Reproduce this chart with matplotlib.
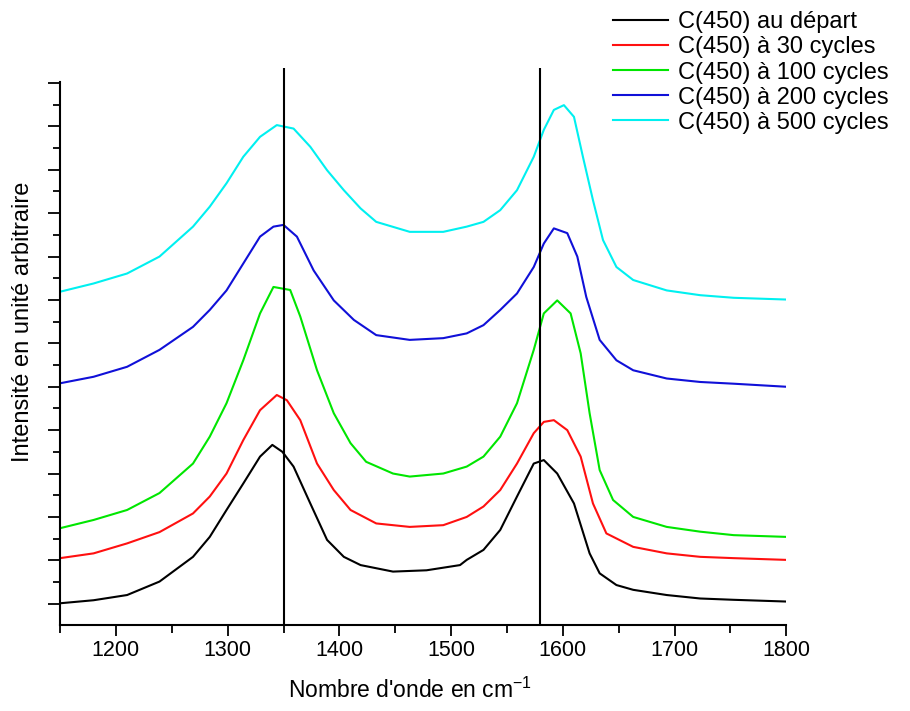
import matplotlib
matplotlib.use("Agg")
import matplotlib.pyplot as plt
from matplotlib.ticker import MultipleLocator

plt.rcParams['font.family'] = ['Liberation Sans', 'DejaVu Sans']

# Wavenumbers (cm^-1) and intensities (arbitrary units, 1 unit = 1 major y tick)
wn_black = [1150, 1180, 1210, 1239, 1269, 1284, 1299, 1314, 1329, 1340, 1349, 1359, 1374, 1389,
            1404, 1419, 1448, 1478, 1508, 1514, 1529, 1544, 1559, 1574, 1583, 1595, 1610, 1624,
            1633, 1648, 1663, 1693, 1723, 1753, 1800]
v_black = [0.01, 0.08, 0.20, 0.51, 1.08, 1.54, 2.16, 2.77, 3.39, 3.66, 3.50, 3.16, 2.31, 1.47,
           1.08, 0.89, 0.74, 0.77, 0.89, 1.01, 1.24, 1.70, 2.47, 3.23, 3.31, 3.00, 2.31, 1.16,
           0.70, 0.43, 0.32, 0.20, 0.12, 0.09, 0.05]

wn_red = [1150, 1180, 1210, 1239, 1269, 1284, 1299, 1314, 1329, 1344, 1353, 1365, 1380, 1395,
          1410, 1433, 1463, 1493, 1514, 1529, 1544, 1559, 1574, 1583, 1592, 1604, 1616, 1627,
          1639, 1663, 1693, 1723, 1753, 1800]
v_red = [1.05, 1.16, 1.39, 1.65, 2.08, 2.47, 3.00, 3.77, 4.46, 4.81, 4.69, 4.23, 3.23, 2.62,
         2.16, 1.85, 1.77, 1.81, 2.00, 2.24, 2.62, 3.23, 3.93, 4.19, 4.23, 4.00, 3.39, 2.31,
         1.62, 1.31, 1.16, 1.08, 1.05, 1.01]

wn_green = [1150, 1180, 1210, 1239, 1269, 1284, 1299, 1314, 1329, 1341, 1356, 1365, 1380, 1395,
            1410, 1424, 1448, 1463, 1493, 1514, 1529, 1544, 1559, 1574, 1583, 1595, 1607, 1616,
            1624, 1633, 1645, 1663, 1693, 1723, 1753, 1800]
v_green = [1.74, 1.93, 2.16, 2.55, 3.23, 3.85, 4.62, 5.61, 6.69, 7.30, 7.23, 6.62, 5.38, 4.39,
           3.70, 3.27, 3.00, 2.93, 3.00, 3.16, 3.39, 3.85, 4.62, 5.85, 6.69, 6.99, 6.69, 5.77,
           4.39, 3.08, 2.39, 2.00, 1.77, 1.66, 1.58, 1.54]

wn_blue = [1150, 1180, 1210, 1239, 1269, 1284, 1299, 1314, 1329, 1341, 1350, 1362, 1377, 1395,
           1413, 1433, 1463, 1493, 1514, 1529, 1544, 1559, 1574, 1583, 1592, 1604, 1613, 1621,
           1633, 1648, 1663, 1693, 1723, 1753, 1800]
v_blue = [5.08, 5.23, 5.46, 5.85, 6.38, 6.77, 7.22, 7.84, 8.46, 8.69, 8.73, 8.46, 7.68, 6.99,
          6.54, 6.19, 6.08, 6.12, 6.23, 6.42, 6.77, 7.15, 7.76, 8.30, 8.65, 8.54, 8.00, 7.07,
          6.08, 5.61, 5.38, 5.19, 5.11, 5.07, 5.00]

wn_cyan = [1150, 1180, 1210, 1239, 1269, 1284, 1299, 1314, 1329, 1344, 1359, 1374, 1389, 1404,
           1419, 1433, 1463, 1493, 1514, 1529, 1544, 1559, 1574, 1583, 1592, 1601, 1610, 1618,
           1627, 1636, 1648, 1663, 1693, 1723, 1753, 1800]
v_cyan = [7.19, 7.38, 7.61, 8.00, 8.69, 9.15, 9.69, 10.30, 10.76, 11.03, 10.95, 10.53, 9.99, 9.53,
          9.11, 8.80, 8.57, 8.57, 8.69, 8.80, 9.07, 9.53, 10.30, 10.92, 11.38, 11.49, 11.22, 10.30,
          9.30, 8.38, 7.76, 7.46, 7.22, 7.11, 7.05, 7.01]

labels = ["C(450) au départ", "C(450) à 30 cycles", "C(450) à 100 cycles",
          "C(450) à 200 cycles", "C(450) à 500 cycles"]
colors = ["#000000", "#ff1010", "#00e600", "#1010d8", "#00f0f0"]
ref_lines = [1350, 1580]
x_ticks = [1200, 1300, 1400, 1500, 1600, 1700, 1800]

series = [(wn_black, v_black), (wn_red, v_red), (wn_green, v_green),
          (wn_blue, v_blue), (wn_cyan, v_cyan)]

fig = plt.figure(figsize=(9.1, 7.11), dpi=100)
ax = fig.add_axes([0.066, 0.121, 0.798, 0.783])

handles = []
for (x, y), c, lab in zip(series, colors, labels):
    h, = ax.plot(x, y, color=c, lw=1.5, label=lab)
    handles.append(h)

for xv in ref_lines:
    ax.axvline(xv, color='black', lw=1.5)

ax.set_xlim(1150, 1800)
ax.set_ylim(-0.49, 12.34)

for s in ['top', 'right']:
    ax.spines[s].set_visible(False)
ax.spines['left'].set_bounds(-0.49, 12.02)
ax.spines['left'].set_linewidth(1.5)
ax.spines['bottom'].set_linewidth(1.5)

ax.set_xticks(x_ticks)
ax.xaxis.set_minor_locator(MultipleLocator(50))
ax.set_yticks(list(range(13)))
ax.yaxis.set_minor_locator(MultipleLocator(0.5))
ax.set_yticklabels([])
ax.tick_params(axis='x', which='major', direction='out', length=8, width=1.3, labelsize=15.5, pad=3)
ax.tick_params(axis='x', which='minor', direction='out', length=5.5, width=1.3)
ax.tick_params(axis='y', which='major', direction='out', length=8.5, width=1.3)
ax.tick_params(axis='y', which='minor', direction='out', length=5, width=1.3)

ax.set_xlabel("Nombre d'onde en cm$^{\\mathregular{-1}}$", fontsize=16.5)
ax.xaxis.set_label_coords(0.482, -0.095)
ax.set_ylabel("Intensité en unité arbitraire", fontsize=17)
ax.yaxis.set_label_coords(-0.036, 0.545)

fig.legend(handles=handles, labels=labels, loc='upper left',
           bbox_to_anchor=(0.6736, 0.984), frameon=False, fontsize=17,
           handlelength=2.35, handletextpad=0.4, labelspacing=0.13,
           borderpad=0, borderaxespad=0)

fig.savefig("out.png", dpi=100)
